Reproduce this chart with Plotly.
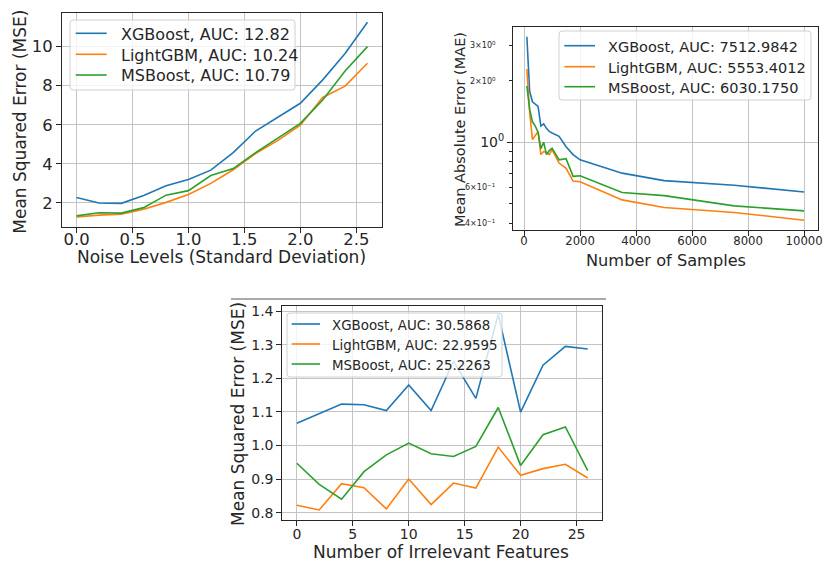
import math
import plotly.graph_objects as go

W, H = 827, 565

# ---- experiment 1: noise level sweep -------------------------------------
noise_levels = [0.0, 0.2, 0.4, 0.6, 0.8, 1.0, 1.2, 1.4, 1.6, 1.8, 2.0, 2.2, 2.4, 2.6]
noise_xgb = [2.28, 2.00, 1.98, 2.38, 2.88, 3.20, 3.68, 4.58, 5.68, 6.40, 7.10, 8.30, 9.65, 11.25]
noise_lgbm = [1.28, 1.38, 1.43, 1.68, 2.03, 2.43, 3.00, 3.70, 4.53, 5.20, 5.98, 7.40, 7.98, 9.15]
noise_msb = [1.34, 1.50, 1.48, 1.76, 2.40, 2.63, 3.40, 3.76, 4.58, 5.33, 6.07, 7.27, 8.75, 10.00]
noise_auc = ["12.82", "10.24", "10.79"]

# ---- experiment 2: training-set size sweep -------------------------------
n_samples = [100, 200, 300, 400, 500, 600, 700, 800, 900, 1000, 1250, 1500,
             1750, 2000, 3500, 5000, 7500, 10000]
size_xgb = [3.30, 1.78, 1.58, 1.54, 1.50, 1.20, 1.23, 1.17, 1.13, 1.11, 1.07, 0.95,
            0.87, 0.82, 0.705, 0.648, 0.615, 0.570]
size_lgbm = [2.29, 1.40, 1.03, 1.08, 1.13, 0.87, 0.90, 0.89, 0.87, 0.92, 0.79, 0.745,
             0.645, 0.64, 0.521, 0.478, 0.452, 0.414]
size_msb = [1.89, 1.45, 1.26, 1.20, 1.12, 0.93, 1.00, 0.87, 0.91, 0.935, 0.82, 0.83,
            0.68, 0.685, 0.566, 0.547, 0.487, 0.460]
size_auc = ["7512.9842", "5553.4012", "6030.1750"]
# labelled minor ticks of the log axis
mae_minor_labels = [(0.4, "4", "\u22121"), (0.6, "6", "\u22121"), (2, "2", "0"), (3, "3", "0")]
mae_minor_ticks = [0.4, 0.5, 0.6, 0.7, 0.8, 0.9, 2, 3]

# ---- experiment 3: irrelevant feature sweep ------------------------------
n_irrelevant = [0, 2, 4, 6, 8, 10, 12, 14, 16, 18, 20, 22, 24, 26]
irr_xgb = [1.066, 1.094, 1.123, 1.121, 1.104, 1.180, 1.104, 1.250, 1.140, 1.390,
           1.099, 1.239, 1.295, 1.287]
irr_lgbm = [0.822, 0.808, 0.886, 0.874, 0.811, 0.900, 0.824, 0.888, 0.873, 0.995,
            0.911, 0.931, 0.944, 0.903]
irr_msb = [0.947, 0.884, 0.840, 0.922, 0.972, 1.007, 0.975, 0.967, 0.997, 1.113,
           0.940, 1.032, 1.055, 0.925]
irr_auc = ["30.5868", "22.9595", "25.2263"]

models = ["XGBoost", "LightGBM", "MSBoost"]
colors = ["#1f77b4", "#ff7f0e", "#2ca02c"]

FONT = "DejaVu Sans"
INK = "#262626"
GRID = "#c4c4c4"
LW = 1.6


def px(x):
    return x / W


def py(y):
    return 1 - y / H


fig = go.Figure()

panels = [
    ("x", "y", noise_levels, [noise_xgb, noise_lgbm, noise_msb], noise_auc),
    ("x2", "y2", n_samples, [size_xgb, size_lgbm, size_msb], size_auc),
    ("x3", "y3", n_irrelevant, [irr_xgb, irr_lgbm, irr_msb], irr_auc),
]
for xa, ya, xs, series, aucs in panels:
    for name, ys, auc, c in zip(models, series, aucs, colors):
        fig.add_trace(go.Scatter(
            x=xs, y=ys, mode="lines", name=f"{name}, AUC: {auc}",
            line=dict(color=c, width=LW), xaxis=xa, yaxis=ya, showlegend=False,
        ))

axis_common = dict(
    showline=True, mirror=True, linecolor=INK, linewidth=1, automargin=False,
    ticks="outside", ticklen=5, tickwidth=1, tickcolor=INK,
    showgrid=True, gridcolor=GRID, gridwidth=1, zeroline=False,
)


def ax(size, **kw):
    d = dict(axis_common)
    d["tickfont"] = dict(size=size, family=FONT, color=INK)
    d.update(kw)
    return d


# panel geometry in pixels: left, right, top, bottom
TL = (62, 382, 13, 227)
TR = (513, 818, 27, 230)
BT = (282.3, 602.3, 305.7, 520)


def dom(box):
    l, r, t, b = box
    return [px(l), px(r)], [py(b), py(t)]


xd1, yd1 = dom(TL)
xd2, yd2 = dom(TR)
xd3, yd3 = dom(BT)

fig.update_layout(
    width=W, height=H, margin=dict(l=0, r=0, t=0, b=0, pad=0),
    paper_bgcolor="white", plot_bgcolor="white",
    font=dict(family=FONT, color=INK), showlegend=False,
    xaxis=ax(16.4, domain=xd1, anchor="y", range=[-0.13, 2.73], dtick=0.5, tick0=0,
             tickformat=".1f", ticklabelstandoff=-8),
    yaxis=ax(16.4, domain=yd1, anchor="x", range=[0.77, 11.72], tickvals=[2, 4, 6, 8, 10]),
    xaxis2=ax(11.7, domain=xd2, anchor="y2", range=[-395, 10495],
              tickvals=[0, 2000, 4000, 6000, 8000, 10000],
              ticktext=["0", "2000", "4000", "6000", "8000", "10000"],
              ticklabelstandoff=-5),
    yaxis2=ax(14, domain=yd2, anchor="x2", type="log", range=[-0.431, 0.566],
              showgrid=True, tickvals=[1], ticktext=["10<sup>0</sup>"],
              minor=dict(tickvals=mae_minor_ticks, ticks="outside", ticklen=3,
                         tickcolor=INK, showgrid=False)),
    xaxis3=ax(14, domain=xd3, anchor="y3", range=[-1.3, 27.3], dtick=5, tick0=0,
              ticklabelstandoff=-4),
    yaxis3=ax(14, domain=yd3, anchor="x3", range=[0.778, 1.416], dtick=0.1, tick0=0.8,
              tickformat=".1f"),
)

# labels of the minor ticks on the log axis (annotation y is log10 on log axes)
for v, mant, exp in mae_minor_labels:
    fig.add_annotation(text=f"{mant}\u00d710<sup>{exp}</sup>", x=px(498),
                       y=math.log10(v), xref="paper", yref="y2", showarrow=False,
                       xanchor="right", yanchor="middle",
                       font=dict(family=FONT, size=8, color=INK))


def rounded_box(l, t, r, b, rad=3):
    rx, ry = rad / W, rad / H
    L, R, T, B = px(l), px(r), py(t), py(b)
    return (f"M {L + rx},{T} L {R - rx},{T} Q {R},{T} {R},{T - ry} "
            f"L {R},{B + ry} Q {R},{B} {R - rx},{B} L {L + rx},{B} "
            f"Q {L},{B} {L},{B + ry} L {L},{T - ry} Q {L},{T} {L + rx},{T} Z")


# legends: box, handle span, text start, row centres, font size
legends = [
    ((70, 20, 295, 90), (75.7, 106.7), 119, [33.3, 54.3, 75.0], 16, noise_auc),
    ((559, 31, 811, 100), (564.3, 595), 605.7, [45.7, 66.7, 86.7], 14.5, size_auc),
    ((287, 313, 502, 377), (291.7, 320), 330, [324, 344, 364], 13.4, irr_auc),
]
for box, (h0, h1), tx, rows, fs, aucs in legends:
    fig.add_shape(type="path", path=rounded_box(*box), xref="paper", yref="paper",
                  fillcolor="rgba(255,255,255,0.8)", line=dict(color="#d0d0d0", width=1),
                  layer="above")
    for name, auc, c, ry in zip(models, aucs, colors, rows):
        fig.add_shape(type="line", xref="paper", yref="paper", x0=px(h0), x1=px(h1),
                      y0=py(ry), y1=py(ry), line=dict(color=c, width=LW), layer="above")
        fig.add_annotation(text=f"{name}, AUC: {auc}", x=px(tx), y=py(ry + 1),
                           xref="paper", yref="paper", showarrow=False,
                           xanchor="left", yanchor="middle",
                           font=dict(family=FONT, size=fs, color=INK))

# thin rule above the lower panel
fig.add_shape(type="line", xref="paper", yref="paper", x0=px(231), x1=px(606),
              y0=py(299), y1=py(299), line=dict(color="#555555", width=1))

titles = [
    ("Noise Levels (Standard Deviation)", 221.7, 257, 0, 17),
    ("Mean Squared Error (MSE)", 20, 121.7, -90, 17),
    ("Number of Samples", 665.8, 260, 0, 16.2),
    ("Mean Absolute Error (MAE)", 460, 129, -90, 14.5),
    ("Number of Irrelevant Features", 440.7, 552, 0, 17),
    ("Mean Squared Error (MSE)", 238, 414, -90, 17),
]
for text, x, y, ang, size in titles:
    fig.add_annotation(text=text, x=px(x), y=py(y), xref="paper", yref="paper",
                       showarrow=False, textangle=ang, xanchor="center", yanchor="middle",
                       font=dict(family=FONT, size=size, color=INK))

fig.write_html("out.html")
